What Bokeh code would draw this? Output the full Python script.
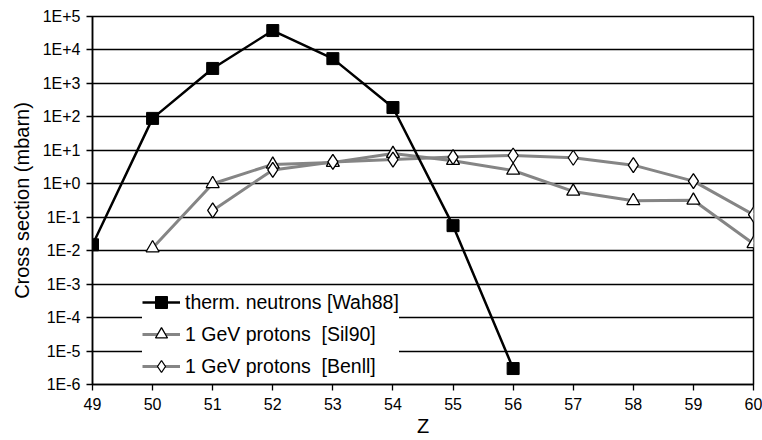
from bokeh.plotting import figure
from bokeh.models import FixedTicker, Legend, LegendItem
from bokeh.embed import file_html
from bokeh.resources import INLINE

# ---- data ----
z_wah = [49, 50, 51, 52, 53, 54, 55, 56]
cs_wah = [0.015, 90, 2800, 38000, 5500, 190, 0.056, 3e-6]

z_sil = [50, 51, 52, 53, 54, 55, 56, 57, 58, 59, 60]
cs_sil = [0.012, 1.0, 3.8, 4.3, 8.0, 4.9, 2.5, 0.59, 0.31, 0.32, 0.016]

z_ben = [51, 52, 53, 54, 55, 56, 57, 58, 59, 60]
cs_ben = [0.16, 2.6, 4.5, 5.3, 6.3, 7.0, 6.0, 3.6, 1.2, 0.12]

x_ticks = list(range(49, 61))
y_exponents = [-6, -5, -4, -3, -2, -1, 0, 1, 2, 3, 4, 5]
y_tick_labels = ["1E-6", "1E-5", "1E-4", "1E-3", "1E-2", "1E-1",
                 "1E+0", "1E+1", "1E+2", "1E+3", "1E+4", "1E+5"]
labels = ["therm. neutrons [Wah88]", "1 GeV protons  [Sil90]", "1 GeV protons  [Benll]"]

FONT = "Liberation Sans"
GRAY = "#858585"

p = figure(width=762, height=440, output_backend="svg", toolbar_location=None,
           x_range=(49, 60), y_range=(1e-6, 1e5), y_axis_type="log",
           min_border_left=92, min_border_right=9, min_border_top=16,
           min_border_bottom=56)

y_ticks = [float(f"1e{k}") for k in y_exponents]

p.xaxis.ticker = FixedTicker(ticks=x_ticks)
p.yaxis.ticker = FixedTicker(ticks=y_ticks)
p.yaxis.major_label_overrides = {t: l for t, l in zip(y_ticks, y_tick_labels)}

for ax in (p.xaxis[0], p.yaxis[0]):
    ax.axis_line_color = "black"
    ax.axis_line_width = 1.5
    ax.major_tick_line_color = "black"
    ax.major_tick_line_width = 1.3
    ax.major_tick_out = 6
    ax.major_tick_in = 0
    ax.minor_tick_line_color = None
    ax.major_label_text_font = FONT
    ax.major_label_text_font_size = "16px"
    ax.major_label_text_color = "black"
    ax.axis_label_text_font = FONT
    ax.axis_label_text_font_style = "normal"
    ax.axis_label_text_color = "black"

p.xaxis.axis_label = "Z"
p.xaxis.axis_label_text_font_size = "20px"
p.xaxis.major_label_standoff = 7
p.xaxis.axis_label_standoff = 2
p.yaxis.axis_label = "Cross section (mbarn)"
p.yaxis.axis_label_text_font_size = "20px"
p.yaxis.major_label_standoff = 6
p.yaxis.axis_label_standoff = 7

p.xgrid.grid_line_color = None
p.ygrid.grid_line_color = "black"
p.ygrid.grid_line_width = 1.3
p.outline_line_color = "black"
p.outline_line_width = 1.5
p.background_fill_color = "white"
p.border_fill_color = "white"

l_sil = p.line(z_sil, cs_sil, line_color=GRAY, line_width=3)
l_ben = p.line(z_ben, cs_ben, line_color=GRAY, line_width=3)
l_wah = p.line(z_wah, cs_wah, line_color="black", line_width=2.5)

m_sil = p.scatter(z_sil, cs_sil, marker="triangle", size=13, fill_color="white",
                  line_color="black", line_width=1.3)
m_ben = p.scatter(z_ben, cs_ben, marker="diamond", size=15, fill_color="white",
                  line_color="black", line_width=1.3)
m_wah = p.scatter(z_wah, cs_wah, marker="square", size=12, fill_color="black",
                  line_color="black")

legend = Legend(items=[
    LegendItem(label=labels[0], renderers=[l_wah, m_wah]),
    LegendItem(label=labels[1], renderers=[l_sil, m_sil]),
    LegendItem(label=labels[2], renderers=[l_ben, m_ben]),
], location=(50, 3))
legend.label_text_font = FONT
legend.label_text_font_size = "19.5px"
legend.label_text_color = "black"
legend.glyph_width = 38
legend.glyph_height = 30
legend.label_height = 30
legend.spacing = 2
legend.padding = 12
legend.margin = 0
legend.label_standoff = 5
legend.border_line_color = None
legend.background_fill_color = "white"
legend.background_fill_alpha = 1.0
p.add_layout(legend)

open("out.html", "w").write(file_html(p, INLINE))
